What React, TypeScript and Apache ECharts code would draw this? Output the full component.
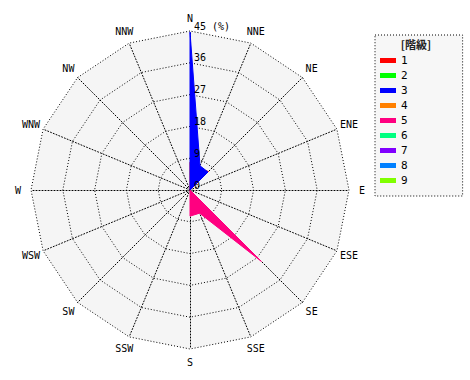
import React, { useEffect, useRef } from "react";
import * as echarts from "echarts";

// Directions clockwise from north
const directions = ["N", "NNE", "NE", "ENE", "E", "ESE", "SE", "SSE", "S", "SSW", "SW", "WSW", "W", "WNW", "NW", "NNW"];
const classNames = ["1", "2", "3", "4", "5", "6", "7", "8", "9"];
const classColors = ["#ff0000", "#00ff00", "#0000ff", "#ff8000", "#ff0080", "#00ff80", "#8000ff", "#0080ff", "#80ff00"];

// frequency (%) per direction, clockwise from N
const class1 = [7.9, 6.5, 7.4, 0, 0, 0, 0, 0, 0, 0, 0, 0, 0, 0, 0, 0];
const class2 = [0, 0, 0, 0, 0, 0, 0, 0, 0, 0, 0, 0, 0, 0, 0, 0];
const class3 = [44.7, 7.4, 7.2, 0, 0, 0, 0, 0, 0, 0, 0, 0, 0, 0, 0, 0];
const class4 = [0, 0, 0, 0, 0, 0, 0, 0, 0, 0, 0, 0, 0, 0, 0, 0];
const class5 = [0, 0, 0, 0, 0, 0, 28.6, 7.1, 7.4, 0, 0, 0, 0, 0, 0, 0];
const class6 = [0, 0, 0, 0, 0, 0, 0, 0, 0, 0, 0, 0, 0, 0, 0, 0];
const class7 = [0, 0, 0, 0, 0, 0, 0, 0, 0, 0, 0, 0, 0, 0, 0, 0];
const class8 = [0, 0, 0, 0, 0, 0, 0, 0, 0, 0, 0, 0, 0, 0, 0, 0];
const class9 = [0, 0, 0, 0, 0, 0, 0, 0, 0, 0, 0, 0, 0, 0, 0, 0];
const classValues = [class1, class2, class3, class4, class5, class6, class7, class8, class9];

const radiusMax = 45;
const ringCount = 5;
const legendTitle = "[階級]";
const unitLabel = "(%)";

const FONT = "DejaVu Sans Mono";

export default function App() {
  const ref = useRef<HTMLDivElement>(null);
  useEffect(() => {
    if (!ref.current) return;
    const chart = echarts.init(ref.current, null, { renderer: "svg" });
    // radar lays indicators counter-clockwise; reorder so compass goes clockwise
    const order = [0, ...Array.from({ length: directions.length - 1 }, (_, i) => directions.length - 1 - i)];
    const gridIndicator = order.map((idx) => ({ name: directions[idx], min: 0, max: radiusMax }));
    const labelIndicator = order.map((idx, k) => {
      const ind: any = { name: "", min: 0, max: radiusMax };
      if (k === 0) {
        ind.axisLabel = {
          show: true,
          color: "#000",
          fontSize: 10,
          fontFamily: FONT,
          margin: -4,
          align: "left",
          verticalAlign: "bottom",
          formatter: (v: number) => (v === radiusMax ? `${v} ${unitLabel}` : String(v)),
        };
      }
      return ind;
    });
    const data = classValues.map((vals, i) => ({
      name: classNames[i],
      value: order.map((idx) => vals[idx]),
      symbol: "none",
      itemStyle: { color: classColors[i] },
      lineStyle: { color: classColors[i], width: 1 },
      areaStyle: { color: classColors[i], opacity: 1 },
    }));
    const common = { center: [190, 190], radius: 159, shape: "polygon", splitNumber: ringCount };
    chart.setOption({
      animation: false,
      backgroundColor: "#fff",
      title: {
        text: legendTitle,
        left: 416,
        top: 38,
        padding: 0,
        textAlign: "center",
        textStyle: { fontSize: 11, fontWeight: "bold", color: "#222", fontFamily: "Noto Sans CJK JP" },
      },
      legend: {
        orient: "vertical",
        left: 375,
        top: 35,
        padding: [20, 55, 10, 5],
        itemWidth: 16,
        itemHeight: 5,
        itemGap: 4,
        icon: "rect",
        data: classNames,
        backgroundColor: "#f7f7f7",
        borderColor: "#000",
        borderWidth: 1,
        borderType: [1, 2],
        textStyle: { color: "#000", fontSize: 11, fontFamily: FONT },
        selectedMode: false,
      },
      radar: [
        {
          ...common,
          z: 0,
          indicator: gridIndicator,
          nameGap: 13,
          axisName: { color: "#000", fontSize: 10, fontFamily: FONT, align: "center", verticalAlign: "middle" },
          axisLabel: { show: false },
          axisLine: { show: true, lineStyle: { color: "#000", width: 1, type: [1, 2] } },
          splitLine: { show: true, lineStyle: { color: "#000", width: 1, type: [1, 2] } },
          splitArea: { show: true, areaStyle: { color: ["#f5f5f5"] } },
        },
        {
          ...common,
          z: 10,
          indicator: labelIndicator,
          axisName: { show: false },
          axisLabel: { show: false },
          axisLine: { show: false },
          axisTick: { show: false },
          splitLine: { show: false },
          splitArea: { show: false },
        },
      ],
      series: [
        {
          type: "radar",
          radarIndex: 0,
          silent: true,
          z: 2,
          data,
        },
      ],
    });
    return () => chart.dispose();
  }, []);
  return <div ref={ref} style={{ position: "fixed", left: 0, top: 0, width: 470, height: 380 }} />;
}
